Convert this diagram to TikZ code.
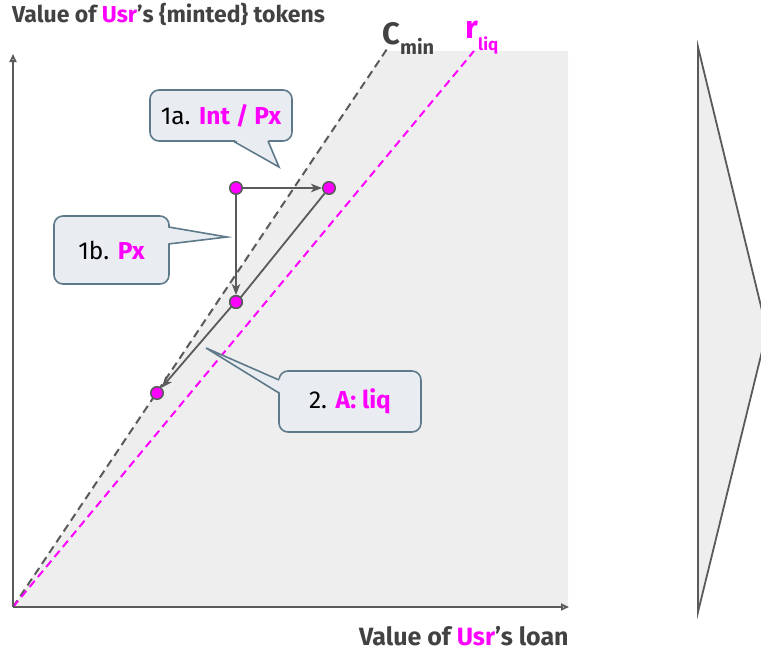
\documentclass[tikz,border=0pt]{standalone}
\usepackage{fontspec}
\setmainfont{Fira Sans}
\usetikzlibrary{arrows.meta}
\definecolor{mag}{HTML}{FF00FF}
\definecolor{ink}{HTML}{424242}
\definecolor{axis}{HTML}{5A5A5A}
\definecolor{bgshade}{HTML}{EEEEEE}
\definecolor{cfill}{HTML}{E9EDF1}
\definecolor{cdraw}{HTML}{5E7A8A}
\tikzset{
  pt/.style={circle, inner sep=0pt, minimum size=12.5pt, fill=mag, draw=axis, line width=1.5pt},
  movearrow/.style={draw=axis, line width=1.8pt, -{Stealth[length=11pt,width=8.5pt,inset=3pt]}},
  axisline/.style={draw=axis, line width=1.8pt, -{Triangle[open,length=8pt,width=7pt]}},
  callout/.style={draw=cdraw, fill=cfill, line width=1.6pt, rounded corners=9pt, inner sep=0pt},
  cptr/.style={draw=cdraw, line width=1.6pt},
  lbl/.style={font=\fontsize{23}{27}\selectfont\bfseries, text=ink, inner sep=0pt},
  ctext/.style={font=\fontsize{24.5}{28}\selectfont, text=black, inner sep=0pt},
}
\begin{document}
\begin{tikzpicture}[x=1pt,y=-1pt]
\useasboundingbox (0,0) rectangle (761,653);
% shaded region
\fill[bgshade] (13,607) -- (385,51) -- (568,51) -- (568,607) -- cycle;
% right shape
\begin{scope}
\clip (0,0) rectangle (761,653);
\draw[draw=axis, fill=bgshade, line width=1.8pt] (698,47) -- (767,331) -- (698,612) -- cycle;
\end{scope}
% coordinates
\coordinate (O) at (13,607);
\coordinate (ytop) at (13,54);
\coordinate (xend) at (569,607);
\coordinate (cminend) at (387,49);
\coordinate (rliqend) at (474,51);
% dashed lines
\draw[axis, line width=2pt, dash pattern=on 8pt off 5pt] (O) -- (cminend);
\draw[mag, line width=2pt, dash pattern=on 8pt off 5pt] (O) -- (rliqend);
% axes
\draw[axisline] (O) -- (ytop);
\draw[axisline] (O) -- (xend);
% labels
\node[lbl, anchor=base west] (ylab) at (12,22) {Value of \textcolor{mag}{Usr}’s \{minted\} tokens};
\node[lbl, font=\fontsize{25}{29}\selectfont\bfseries, anchor=base west] (xlab) at (359,645) {Value of \textcolor{mag}{Usr}’s loan};
\node[font=\fontsize{31}{33}\selectfont\bfseries, text=ink, inner sep=0pt, anchor=base west] (cmin) at (382,45) {C};
\node[font=\fontsize{20}{22}\selectfont\bfseries, text=ink, inner sep=0pt, anchor=base west] (cminsub) at (400,54) {min};
\node[font=\fontsize{32}{34}\selectfont\bfseries, text=mag, inner sep=0pt, anchor=base west] (rl) at (465,38) {r};
\node[font=\fontsize{17}{19}\selectfont\bfseries, text=mag, inner sep=0pt, anchor=base west] (rlsub) at (478,50) {liq};
% callouts
\node[callout, minimum width=142pt, minimum height=51pt] (c1a) at (221,115.5) {};
\fill[cfill] (233,139) -- (279,167) -- (268,139) -- cycle;
\coordinate (t1a) at (279,167);
\draw[cptr] (233,141) -- (t1a) -- (268,141);
\node[ctext] at (c1a) {1a. \textcolor{mag}{\bfseries Int / Px}};

\node[callout, minimum width=115pt, minimum height=68pt] (c1b) at (111.5,250) {};
\fill[cfill] (166,227) -- (227,237) -- (166,244) -- cycle;
\coordinate (t1b) at (227,237);
\draw[cptr] (168.5,227) -- (t1b) -- (168.5,244);
\node[ctext] at (c1b) {1b. \textcolor{mag}{\bfseries Px}};

\node[callout, minimum width=142pt, minimum height=61pt] (c2) at (350,401.5) {};
\fill[cfill] (281,380) -- (206,348) -- (281,393) -- cycle;
\coordinate (t2) at (206,348);
\draw[cptr] (279,380) -- (t2) -- (279,393);
\node[ctext] at (c2) {2. \textcolor{mag}{\bfseries A: liq}};
% points
\node[pt] (p1) at (236,188) {};
\node[pt] (p2) at (329,188) {};
\node[pt] (p3) at (236,302) {};
\node[pt] (p4) at (157,393) {};
\draw[movearrow] (p1) -- (p2);
\draw[movearrow] (p1) -- (p3);
\draw[movearrow] (p2) -- (p3.north east) -- (p3.south west) -- (p4);
\node[pt] at (p3) {};
\end{tikzpicture}
\end{document}
